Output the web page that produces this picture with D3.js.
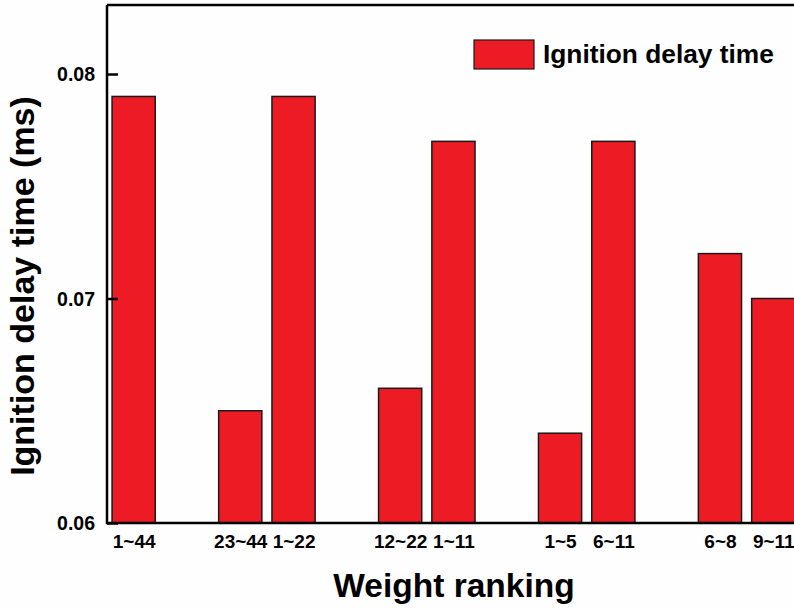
<!DOCTYPE html>
<html>
<head>
<meta charset="utf-8">
<script src="https://cdn.jsdelivr.net/npm/d3@7"></script>
<style>
  html, body { margin: 0; padding: 0; background: #fefefe; }
  svg { display: block; font-family: "Liberation Sans", Arial, sans-serif; }
</style>
</head>
<body>
<svg id="chart" width="794" height="609"></svg>
<script>
// Data
const categories = ["1~44", "23~44", "1~22", "12~22", "1~11", "1~5", "6~11", "6~8", "9~11"];
const positions  = [1, 3, 4, 6, 7, 9, 10, 12, 13];
const ignitionDelay = [0.079, 0.065, 0.079, 0.066, 0.077, 0.064, 0.077, 0.072, 0.070];
const yTicks = [0.06, 0.07, 0.08];
const seriesName = "Ignition delay time";

const svg = d3.select("#chart");
const mLeft = 107, mTop = 5, mBottom = 523;
const slot = 53.3;

const x = d3.scaleLinear().domain([0.5, 14.5]).range([mLeft, mLeft + 14 * slot]);
const y = d3.scaleLinear().domain([0.06, 0.08]).range([mBottom, 74]);
const yTop = y.invert(mTop);

const barW = slot * 0.81;

// bars
svg.append("g").selectAll("rect")
  .data(categories.map((c, i) => ({c, p: positions[i], v: ignitionDelay[i]})))
  .join("rect")
  .attr("x", d => x(d.p) - barW / 2)
  .attr("y", d => y(d.v))
  .attr("width", barW)
  .attr("height", d => y(0.06) - y(d.v))
  .attr("fill", "#ed1c24")
  .attr("stroke", "#1a1a1a")
  .attr("stroke-width", 1.5);

// frame: left, bottom, top
const frame = svg.append("g").attr("stroke", "#000").attr("stroke-width", 2.5).attr("fill", "none");
frame.append("path").attr("d", `M${mLeft},${y(yTop)}V${mBottom}H${800}`);
frame.append("path").attr("d", `M${mLeft},${y(yTop)}H${800}`);

// y axis ticks (inward)
const yAxis = d3.axisLeft(y).tickValues(yTicks).tickSize(-11).tickPadding(12)
  .tickFormat(d3.format(".2f"));
const gy = svg.append("g").attr("transform", `translate(${mLeft},0)`).call(yAxis);
gy.select(".domain").remove();
gy.selectAll(".tick line").attr("stroke", "#000").attr("stroke-width", 2.5);
gy.selectAll(".tick text").attr("font-size", 19.5).attr("font-weight", "bold")
  .attr("fill", "#000").attr("font-family", "Liberation Sans, Arial, sans-serif")
  .attr("dy", "0.35em");

// x labels
const xAxis = d3.axisBottom(x).tickValues(positions)
  .tickFormat((d, i) => categories[i]).tickSize(0).tickPadding(12);
const gx = svg.append("g").attr("transform", `translate(0,${mBottom})`).call(xAxis);
gx.select(".domain").remove();
gx.selectAll(".tick text").attr("font-size", 19).attr("font-weight", "bold")
  .attr("fill", "#000").attr("font-family", "Liberation Sans, Arial, sans-serif");

// axis titles
svg.append("text")
  .attr("x", 454).attr("y", 597)
  .attr("text-anchor", "middle")
  .attr("font-size", 33.5).attr("font-weight", "bold")
  .text("Weight ranking");

svg.append("text")
  .attr("transform", "translate(34,286) rotate(-90)")
  .attr("text-anchor", "middle")
  .attr("font-size", 34).attr("font-weight", "bold")
  .text("Ignition delay time (ms)");

// legend
const lg = svg.append("g");
lg.append("rect").attr("x", 474).attr("y", 40).attr("width", 60).attr("height", 29)
  .attr("fill", "#ed1c24").attr("stroke", "#1a1a1a").attr("stroke-width", 1.2);
lg.append("text").attr("x", 543).attr("y", 63)
  .attr("font-size", 26.3).attr("font-weight", "bold")
  .text(seriesName);
</script>
</body>
</html>
